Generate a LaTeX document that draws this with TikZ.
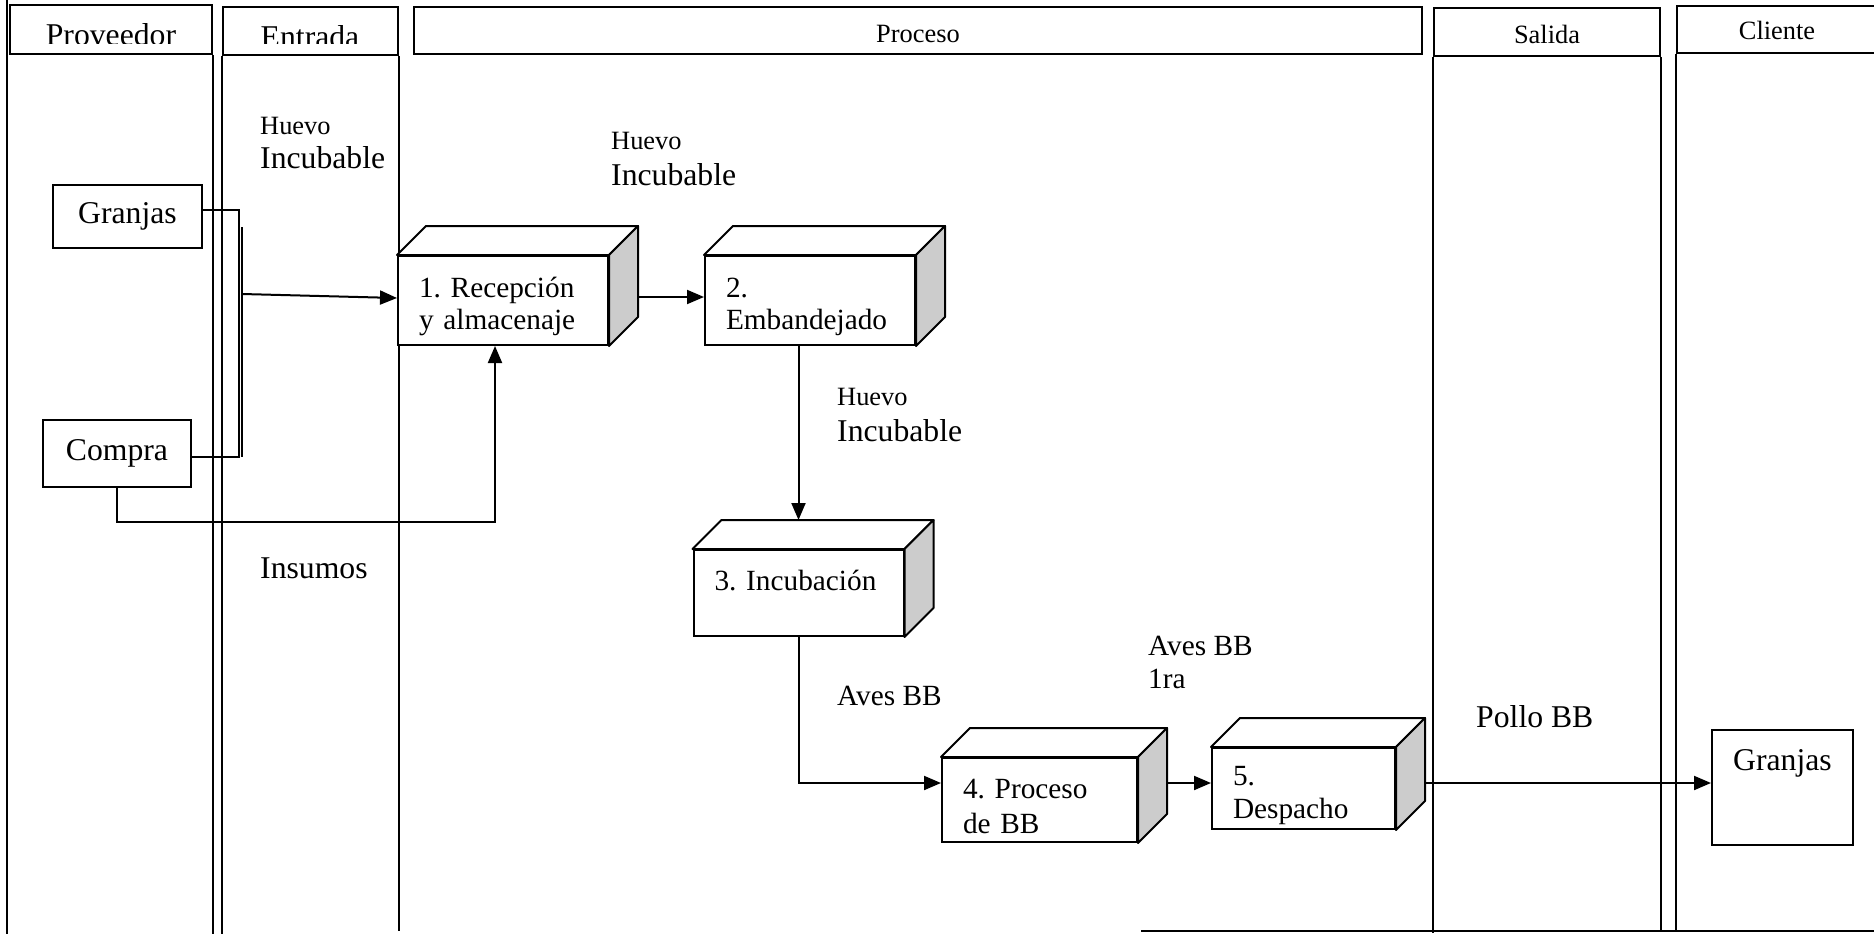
\documentclass[tikz,border=0pt]{standalone}
\usepackage{fontspec}
\setmainfont{Liberation Serif}
\frenchspacing
\usetikzlibrary{positioning, arrows.meta}

\tikzstyle{cabecera} = [rectangle, draw=black, line width=2pt, inner sep=0pt]
\tikzstyle{titulo} = [anchor=base, inner sep=0pt,
font=\fontsize{26.4}{30}\selectfont]
\tikzstyle{tituloG} = [anchor=base, inner sep=0pt,
font=\fontsize{31.7}{36}\selectfont]
\tikzstyle{carril} = [line width=2pt]
\tikzstyle{actor} = [rectangle, draw=black, line width=2pt, inner sep=0pt,
font=\fontsize{31.7}{36}\selectfont]
\tikzstyle{etapa} = [rectangle, draw=black, fill=white, line width=2pt,
align=left, text width=168pt, inner xsep=21pt, inner ysep=0pt,
minimum height=89pt, text height=33pt,
font=\fontsize{29.3}{32}\selectfont]
\tikzstyle{tapa} = [draw=black, fill=white, line width=2pt, line join=round]
\tikzstyle{lado} = [draw=black, fill=black!20, line width=2pt, line join=round]
\tikzstyle{nota} = [anchor=base west, inner sep=0pt,
font=\fontsize{31.7}{36}\selectfont]
\tikzstyle{notaChica} = [anchor=base west, inner sep=0pt,
font=\fontsize{26.4}{30}\selectfont]
\tikzstyle{notaMedia} = [anchor=base west, inner sep=0pt,
font=\fontsize{29.3}{33}\selectfont]
\tikzstyle{linea} = [line width=2pt]
\tikzstyle{flecha} = [line width=2pt, -{Triangle[length=17pt,width=14pt]}]

\begin{document}
\begin{tikzpicture}[x=1pt, y=-1pt]
\path [fill=white, use as bounding box] (0,0) rectangle (1874,934);

% carriles
\node (cabProv) [cabecera, minimum width=202pt, minimum height=49pt] at (111,29.5) {};
\node (cabEnt) [cabecera, minimum width=175pt, minimum height=48pt] at (310.5,31) {};
\node (cabProc) [cabecera, minimum width=1008pt, minimum height=47pt] at (918,30.5) {};
\node (cabSal) [cabecera, minimum width=226pt, minimum height=48pt] at (1547,32) {};
\node (cabCli) [cabecera, minimum width=220pt, minimum height=47pt] at (1787,29.5) {};

\begin{scope}
\clip (0,0) rectangle (410,43.5);
\node (tProv) [tituloG] at (111,46) {Proveedor};
\node (tEnt) [tituloG] at (310,48) {Entrada};
\end{scope}
\node (tProc) [titulo] at (918,42.5) {Proceso};
\node (tSal) [titulo] at (1547,44) {Salida};
\node (tCli) [titulo] at (1777,40) {Cliente};

\draw [carril] (7,0) -- (7,934);
\draw [carril] (cabProv.south east) -- ++(0,880);
\draw [carril] (cabEnt.south west) -- ++(0,879);
\draw [carril] (cabEnt.south east) -- ++(0,875);
\draw [carril] (cabSal.south west) -- ++(0,876);
\draw [carril] (cabSal.south east) -- ++(0,874);
\draw [carril] (cabCli.south west) -- ++(0,877);
\draw [carril] (1141,931) -- (1874,931);

% proveedores y cliente
\node (granjasP) [actor, minimum width=149pt, minimum height=63pt] at (127.5,216.5) {Granjas};
\node (compra) [actor, minimum width=148pt, minimum height=67pt] at (117,453.5) {Compra};
\node (granjasC) [actor, minimum width=141pt, minimum height=115pt,
text height=22pt, text depth=57pt] at (1782.5,787.5) {Granjas};

% etapas
\node (p1) [etapa] at (503,300.5) {1. Recepción\\y almacenaje};
\node (p2) [etapa, right=95pt of p1] {2.\\Embandejado};
\node (p3) [etapa, minimum height=86pt, text height=14pt, text depth=20pt] at (798.5,593) {3. Incubación};
\node (p4) [etapa, text width=153pt, minimum height=84pt,
font=\fontsize{29.3}{35}\selectfont] at (1039.5,800) {4. Proceso\\de BB};
\node (p5) [etapa, text width=141pt, minimum height=81pt,
font=\fontsize{29.3}{33}\selectfont] at (1303.5,788.5) {5.\\Despacho};

\draw [tapa] (p1.north west) -- ++(29,-29) -- ([shift={(29,-29)}]p1.north east) -- (p1.north east) -- cycle;
\draw [lado] (p1.north east) -- ([shift={(29,-29)}]p1.north east) -- ([shift={(29,-29)}]p1.south east) -- (p1.south east) -- cycle;
\draw [tapa] (p2.north west) -- ++(29,-29) -- ([shift={(29,-29)}]p2.north east) -- (p2.north east) -- cycle;
\draw [lado] (p2.north east) -- ([shift={(29,-29)}]p2.north east) -- ([shift={(29,-29)}]p2.south east) -- (p2.south east) -- cycle;
\draw [tapa] (p3.north west) -- ++(29,-29) -- ([shift={(29,-29)}]p3.north east) -- (p3.north east) -- cycle;
\draw [lado] (p3.north east) -- ([shift={(29,-29)}]p3.north east) -- ([shift={(29,-29)}]p3.south east) -- (p3.south east) -- cycle;
\draw [tapa] (p4.north west) -- ++(29,-29) -- ([shift={(29,-29)}]p4.north east) -- (p4.north east) -- cycle;
\draw [lado] (p4.north east) -- ([shift={(29,-29)}]p4.north east) -- ([shift={(29,-29)}]p4.south east) -- (p4.south east) -- cycle;
\draw [tapa] (p5.north west) -- ++(29,-29) -- ([shift={(29,-29)}]p5.north east) -- (p5.north east) -- cycle;
\draw [lado] (p5.north east) -- ([shift={(29,-29)}]p5.north east) -- ([shift={(29,-29)}]p5.south east) -- (p5.south east) -- cycle;

% textos
\node (hue1) [notaChica] at (260,134) {Huevo};
\node (inc1) [nota] at ([yshift=-34pt]hue1.base west) {Incubable};
\node (hue2) [notaChica] at (611,149) {Huevo};
\node (inc2) [nota] at ([yshift=-36pt]hue2.base west) {Incubable};
\node (hue3) [notaChica] at (837,405) {Huevo};
\node (inc3) [nota] at ([yshift=-36pt]hue3.base west) {Incubable};
\node (insumos) [nota] at (260,578) {Insumos};
\node (aves1) [notaMedia] at (837,705) {Aves BB};
\node (aves2) [notaMedia] at (1148,655) {Aves BB};
\node (ra) [notaMedia] at ([yshift=-33pt]aves2.base west) {1ra};
\node (pollo) [nota] at (1476,727) {Pollo BB};

% conexiones
\coordinate (bus) at (239,457);
\coordinate (bus2) at (242,227);
\coordinate (union) at (242,294);
\coordinate (codo) at (117,522);
\coordinate (f1) at (637,297);
\coordinate (f4) at (1166,783);
\coordinate (f5) at (1424,783);

\draw [linea] ([yshift=6.5pt]granjasP.east) -| (bus) -- (bus -| compra.east);
\draw [linea] (bus2) -- (bus2 |- bus);
\draw [flecha] (union) -- ([yshift=2.5pt]p1.west);
\draw [flecha] (compra.south) -- (codo) -| ([xshift=-8pt]p1.south);
\draw [flecha] (f1) -- (f1 -| p2.west);
\draw [flecha] (p3.north |- p2.south) -- ([yshift=29pt]p3.north);
\draw [flecha] (p3.south) |- (f4 -| p4.west);
\draw [flecha] (f4) -- (f4 -| p5.west);
\draw [flecha] (f5) -- (f5 -| granjasC.west);
\end{tikzpicture}
\end{document}
